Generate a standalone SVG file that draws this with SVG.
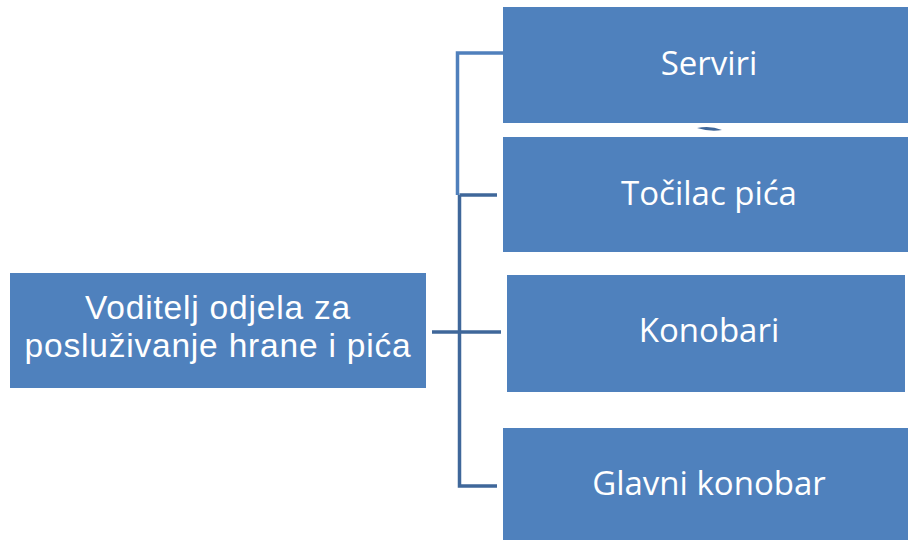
<svg xmlns="http://www.w3.org/2000/svg" width="908" height="540" viewBox="0 0 908 540">
<style>
.box{fill:#4f81bd;}
.lbl{font-family:"Open Sans","DejaVu Sans",sans-serif;font-size:33px;fill:#ffffff;text-anchor:middle;}
.lbl2{font-family:"Liberation Sans",Arial,sans-serif;font-size:33.5px;letter-spacing:0.8px;fill:#ffffff;text-anchor:middle;}
.c1{stroke:#5080bc;stroke-width:3.5;fill:none;}
.c2{stroke:#3f679a;stroke-width:3.5;fill:none;}
</style>
<rect width="908" height="540" fill="#ffffff"/>
<g id="connectors">
<path class="c1" d="M507,53 H457.5 V195"/>
<path class="c2" d="M459.5,195 H497"/>
<path class="c2" d="M459.5,195 V486 H497"/>
<path class="c2" d="M432,332 H501"/>
<path d="M697,128 Q710,125 722,130 Q710,132 697,128 Z" fill="#3f679a"/>
</g>
<g id="node-voditelj">
<rect class="box" x="10" y="273" width="416" height="115"/>
<text class="lbl2" x="218" y="319">Voditelj odjela za</text>
<text class="lbl2" x="218" y="357">posluživanje hrane i pića</text>
</g>
<g id="node-serviri">
<rect class="box" x="503" y="7" width="405" height="116"/>
<text class="lbl" x="709" y="75">Serviri</text>
</g>
<g id="node-tocilac">
<rect class="box" x="503" y="137" width="405" height="115"/>
<text class="lbl" x="709" y="205">Točilac pića</text>
</g>
<g id="node-konobari">
<rect class="box" x="507" y="275" width="398" height="117"/>
<text class="lbl" x="709" y="342">Konobari</text>
</g>
<g id="node-glavni">
<rect class="box" x="503" y="428" width="405" height="112"/>
<text class="lbl" x="709" y="495">Glavni konobar</text>
</g>
</svg>
